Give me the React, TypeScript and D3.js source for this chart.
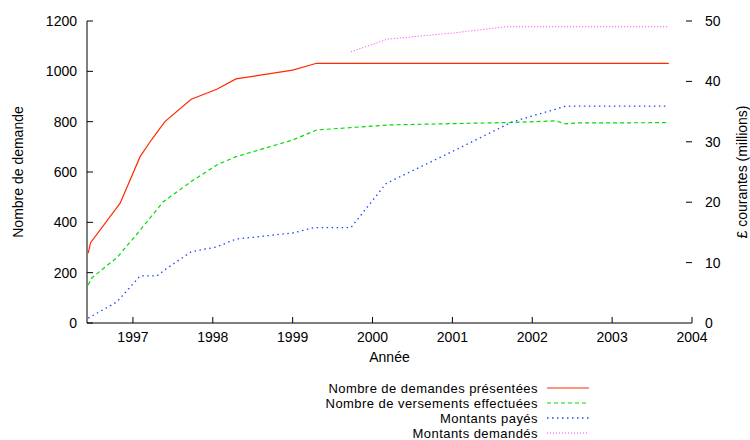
import React from 'react';
import * as d3 from 'd3';

// years as decimal values
const demandesYears = [1996.44, 1996.47, 1996.84, 1997.09, 1997.23, 1997.4, 1997.73, 1998.05, 1998.29, 1999.0, 1999.3, 2003.71];
const demandesValues = [278, 319, 476, 661, 727, 800, 889, 929, 970, 1005, 1032, 1032];

const versementsYears = [1996.44, 1996.48, 1996.8, 1997.06, 1997.38, 1997.73, 1998.05, 1998.29, 1999.0, 1999.3, 2000.2, 2001.75, 2002.29, 2002.42, 2002.55, 2003.71];
const versementsValues = [151, 178, 260, 357, 482, 562, 628, 661, 727, 767, 787, 797, 803, 791, 795, 796];

const payesYears = [1996.44, 1996.8, 1997.09, 1997.3, 1997.42, 1997.73, 1998.05, 1998.29, 1999.0, 1999.27, 1999.73, 2000.17, 2001.0, 2001.75, 2002.42, 2003.71];
const payesValues = [0.8, 3.5, 7.8, 7.8, 9.0, 11.8, 12.6, 13.9, 14.9, 15.8, 15.8, 23.1, 28.4, 33.3, 35.9, 35.9];

const demandesMontantYears = [1999.73, 2000.19, 2001.0, 2001.67, 2003.71];
const demandesMontantValues = [44.9, 47.0, 48.0, 49.05, 49.05];

const yearTicks = [1997, 1998, 1999, 2000, 2001, 2002, 2003, 2004];
const leftTicks = [0, 200, 400, 600, 800, 1000, 1200];
const rightTicks = [0, 10, 20, 30, 40, 50];

const legendLabels = [
  'Nombre de demandes présentées',
  'Nombre de versements effectuées',
  'Montants payés',
  'Montants demandés',
];

const W = 750;
const H = 440;
const FONT = '"Liberation Sans", Arial, Helvetica, sans-serif';

const App: React.FC = () => {
  const x = d3.scaleLinear().domain([1996.425, 2004]).range([87, 692]);
  const yLeft = d3.scaleLinear().domain([0, 1200]).range([323, 21]);
  const yRight = d3.scaleLinear().domain([0, 50]).range([323, 21]);

  const lineOf = (ys: number[], vs: number[], scale: d3.ScaleLinear<number, number>) =>
    d3.line<number>()
      .x((_, i) => x(ys[i]))
      .y(d => scale(d))(vs) || '';

  const series = [
    { d: lineOf(demandesYears, demandesValues, yLeft), color: '#ff2a00', dash: undefined, w: 1.2 },
    { d: lineOf(versementsYears, versementsValues, yLeft), color: '#00dd00', dash: '4,3', w: 1.2 },
    { d: lineOf(payesYears, payesValues, yRight), color: '#2244ff', dash: '1.5,3.5', w: 1.3 },
    { d: lineOf(demandesMontantYears, demandesMontantValues, yRight), color: '#ff33ff', dash: '1,2', w: 1 },
  ];

  const [x0, x1] = x.range();
  const yBase = yLeft(0);
  const yMid = (yLeft(0) + yLeft(1200)) / 2;

  return (
    <svg
      width={W}
      height={H}
      style={{ position: 'absolute', left: 0, top: 0, background: '#fff' }}
      fontFamily={FONT}
      fontSize={14}
    >
      {/* axes */}
      <line x1={x0} x2={x0} y1={yLeft(1200)} y2={yBase} stroke="#000" />
      <line x1={x0} x2={x1} y1={yBase} y2={yBase} stroke="#000" />

      {leftTicks.map(t => (
        <g key={'l' + t}>
          <line x1={x0} x2={x0 + 6} y1={yLeft(t)} y2={yLeft(t)} stroke="#000" />
          <text x={x0 - 10} y={yLeft(t)} dy="0.35em" textAnchor="end">{t}</text>
        </g>
      ))}

      {rightTicks.map(t => (
        <g key={'r' + t}>
          {t > 0 && <line x1={x1 - 6} x2={x1} y1={yRight(t)} y2={yRight(t)} stroke="#000" />}
          <text x={x1 + 13} y={yRight(t)} dy="0.35em" textAnchor="start">{t}</text>
        </g>
      ))}

      {yearTicks.map(t => (
        <g key={'x' + t}>
          <line x1={x(t)} x2={x(t)} y1={yBase} y2={yBase - 6} stroke="#000" />
          <text x={x(t)} y={342} textAnchor="middle">{t}</text>
        </g>
      ))}

      <text x={(x0 + x1) / 2} y={362} textAnchor="middle">Année</text>
      <text transform={`translate(23, ${yMid}) rotate(-90)`} textAnchor="middle">
        Nombre de demande
      </text>
      <text transform={`translate(747, ${yMid}) rotate(-90)`} textAnchor="middle">
        £ courantes (millions)
      </text>

      {series.map((s, i) => (
        <path key={i} d={s.d} fill="none" stroke={s.color} strokeWidth={s.w} strokeDasharray={s.dash} />
      ))}

      {/* legend */}
      {legendLabels.map((label, i) => {
        const ly = 388 + i * 15;
        const s = series[i];
        return (
          <g key={label}>
            <text x={538} y={ly} dy="0.35em" textAnchor="end" fontSize={13} letterSpacing={0.45}>
              {label}
            </text>
            <line x1={547} x2={589} y1={ly} y2={ly} stroke={s.color} strokeWidth={s.w} strokeDasharray={s.dash} />
          </g>
        );
      })}
    </svg>
  );
};

export default App;
